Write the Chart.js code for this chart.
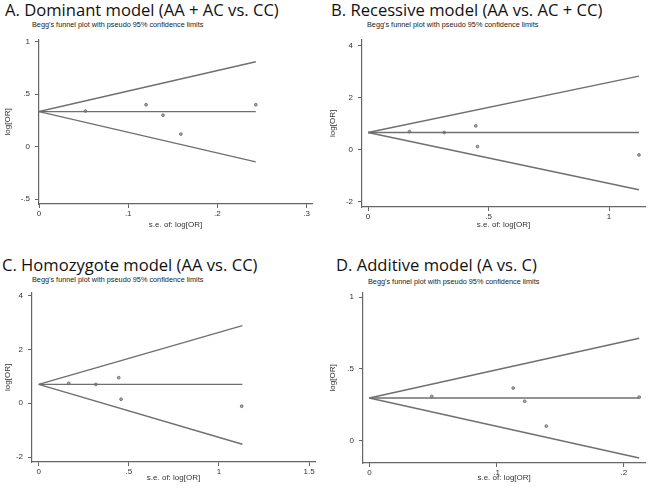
<!DOCTYPE html>
<html>
<head>
<meta charset="utf-8">
<script src="https://cdn.jsdelivr.net/npm/chart.js@4.4.1/dist/chart.umd.min.js"></script>
<style>
  body { margin: 0; background: #fff; }
  #wrap { position: relative; width: 650px; height: 487px; overflow: hidden; }
  .title { position: absolute; font-family: "Open Sans", sans-serif; font-size: 16.6px; color: #111; white-space: nowrap; line-height: 20px; }
  .sub { position: absolute; font-family: "Liberation Sans", Arial, sans-serif; font-size: 7.3px; color: #222; white-space: nowrap; line-height: 10px; }
  canvas { position: absolute; }
</style>
</head>
<body>
<div id="wrap">
  <div class="title" style="left:5px;top:0px">A. Dominant model (AA + AC vs. CC)</div>
  <div class="title" style="left:331px;top:0px">B. Recessive model (AA vs. AC + CC)</div>
  <div class="title" style="left:2px;top:255px">C. Homozygote model (AA vs. CC)</div>
  <div class="title" style="left:336px;top:255px">D. Additive model (A vs. C)</div>
  <div class="sub" style="left:32px;top:20px">Begg's funnel plot with pseudo 95% confidence limits</div>
  <div class="sub" style="left:367px;top:20px">Begg's funnel plot with pseudo 95% confidence limits</div>
  <div class="sub" style="left:32px;top:275px">Begg's funnel plot with pseudo 95% confidence limits</div>
  <div class="sub" style="left:368px;top:277px">Begg's funnel plot with pseudo 95% confidence limits</div>
  <canvas id="chartA" width="325" height="200" style="left:0px;top:30px"></canvas>
  <canvas id="chartB" width="325" height="200" style="left:325px;top:30px"></canvas>
  <canvas id="chartC" width="325" height="200" style="left:0px;top:283px"></canvas>
  <canvas id="chartD" width="325" height="200" style="left:325px;top:283px"></canvas>
</div>
<script>
// A. Dominant model
const seA = [0.052, 0.120, 0.139, 0.159, 0.243];
const logOrA = [0.34, 0.40, 0.30, 0.12, 0.40];
const pooledA = 0.335;
const limitSeA = 0.243;
const upperEndA = 0.81;
const lowerEndA = -0.145;
const xTicksA = [0, 0.1, 0.2, 0.3];
const yTicksA = [-0.5, 0, 0.5, 1];

// B. Recessive model
const seB = [0.172, 0.316, 0.447, 0.454, 1.124];
const logOrB = [0.69, 0.655, 0.91, 0.11, -0.21];
const pooledB = 0.655;
const limitSeB = 1.124;
const upperEndB = 2.83;
const lowerEndB = -1.555;
const xTicksB = [0, 0.5, 1];
const yTicksB = [-2, 0, 2, 4];

// C. Homozygote model
const seC = [0.167, 0.317, 0.444, 0.457, 1.126];
const logOrC = [0.74, 0.70, 0.95, 0.15, -0.11];
const pooledC = 0.70;
const limitSeC = 1.13;
const upperEndC = 2.88;
const lowerEndC = -1.52;
const xTicksC = [0, 0.5, 1, 1.5];
const yTicksC = [-2, 0, 2, 4];

// D. Additive model
const seD = [0.049, 0.113, 0.122, 0.139, 0.212];
const logOrD = [0.308, 0.366, 0.274, 0.101, 0.303];
const pooledD = 0.297;
const limitSeD = 0.212;
const upperEndD = 0.713;
const lowerEndD = -0.121;
const xTicksD = [0, 0.1, 0.2];
const yTicksD = [0, 0.5, 1];

const LINE = '#6f6f6f';
const AXIS = '#666';
const TXT = '#333';

const stataLabel = (v) => String(+v.toFixed(2)).replace(/^(-?)0\./, '$1.');

function funnelChart(id, cfg) {
  const ctx = document.getElementById(id).getContext('2d');
  const line = (pts) => ({
    type: 'line',
    data: pts,
    borderColor: LINE,
    borderWidth: 1.4,
    pointRadius: 0,
    fill: false,
  });
  return new Chart(ctx, {
    type: 'scatter',
    data: {
      datasets: [
        line([{ x: 0, y: cfg.pooled }, { x: cfg.limitSe, y: cfg.upper }]),
        line([{ x: 0, y: cfg.pooled }, { x: cfg.limitSe, y: cfg.lower }]),
        line([{ x: 0, y: cfg.pooled }, { x: cfg.limitSe, y: cfg.pooled }]),
        {
          data: cfg.se.map((s, i) => ({ x: s, y: cfg.logOr[i] })),
          pointRadius: 1.4,
          pointBackgroundColor: '#aaa',
          pointBorderColor: '#666',
          pointBorderWidth: 0.8,
        },
      ],
    },
    options: {
      responsive: false,
      animation: false,
      layout: { padding: { top: cfg.padTop, right: cfg.padRight, left: 0, bottom: 0 } },
      plugins: { legend: { display: false }, tooltip: { enabled: false } },
      scales: {
        x: {
          type: 'linear',
          min: cfg.xMin,
          max: cfg.xMax,
          afterBuildTicks: (s) => { s.ticks = cfg.xTicks.map((v) => ({ value: v })); },
          afterFit: (s) => { s.height = cfg.xHeight; },
          grid: { drawOnChartArea: false, drawTicks: true, tickLength: 4, color: AXIS },
          border: { display: true, color: AXIS, width: 1.2 },
          ticks: {
            color: TXT, padding: 1, maxRotation: 0,
            font: { family: 'Liberation Sans', size: 8 },
            callback: stataLabel,
          },
          title: {
            display: true, text: 's.e. of: log[OR]', color: TXT,
            font: { family: 'Liberation Sans', size: 8 }, padding: { top: 0, bottom: 0 },
          },
        },
        y: {
          type: 'linear',
          min: cfg.yMin,
          max: cfg.yMax,
          afterBuildTicks: (s) => { s.ticks = cfg.yTicks.map((v) => ({ value: v })); },
          afterFit: (s) => { s.width = cfg.yWidth; },
          grid: { drawOnChartArea: false, drawTicks: true, tickLength: 4, color: AXIS },
          border: { display: true, color: AXIS, width: 1.2 },
          ticks: {
            color: TXT, padding: 5,
            font: { family: 'Liberation Sans', size: 8 },
            callback: stataLabel,
          },
          title: {
            display: true, text: 'log[OR]', color: TXT,
            font: { family: 'Liberation Sans', size: 8 }, padding: { top: 3, bottom: 0 },
          },
        },
      },
    },
  });
}

funnelChart('chartA', {
  se: seA, logOr: logOrA, pooled: pooledA, limitSe: limitSeA, upper: upperEndA, lower: lowerEndA,
  xMin: 0, xMax: 0.306, yMin: -0.547, yMax: 1.02, xTicks: xTicksA, yTicks: yTicksA,
  yWidth: 39, xHeight: 26, padTop: 7, padRight: 13,
});
funnelChart('chartB', {
  se: seB, logOr: logOrB, pooled: pooledB, limitSe: limitSeB, upper: upperEndB, lower: lowerEndB,
  xMin: -0.025, xMax: 1.149, yMin: -2.22, yMax: 4.23, xTicks: xTicksB, yTicks: yTicksB,
  yWidth: 37, xHeight: 23, padTop: 3, padRight: 5,
});
funnelChart('chartC', {
  se: seC, logOr: logOrC, pooled: pooledC, limitSe: limitSeC, upper: upperEndC, lower: lowerEndC,
  xMin: -0.037, xMax: 1.533, yMin: -2.18, yMax: 4.1, xTicks: xTicksC, yTicks: yTicksC,
  yWidth: 32, xHeight: 21, padTop: 9, padRight: 10,
});
funnelChart('chartD', {
  se: seD, logOr: logOrD, pooled: pooledD, limitSe: limitSeD, upper: upperEndD, lower: lowerEndD,
  xMin: -0.005, xMax: 0.2167, yMin: -0.156, yMax: 1.03, xTicks: xTicksD, yTicks: yTicksD,
  yWidth: 38, xHeight: 20, padTop: 9, padRight: 3,
});
</script>
</body>
</html>
